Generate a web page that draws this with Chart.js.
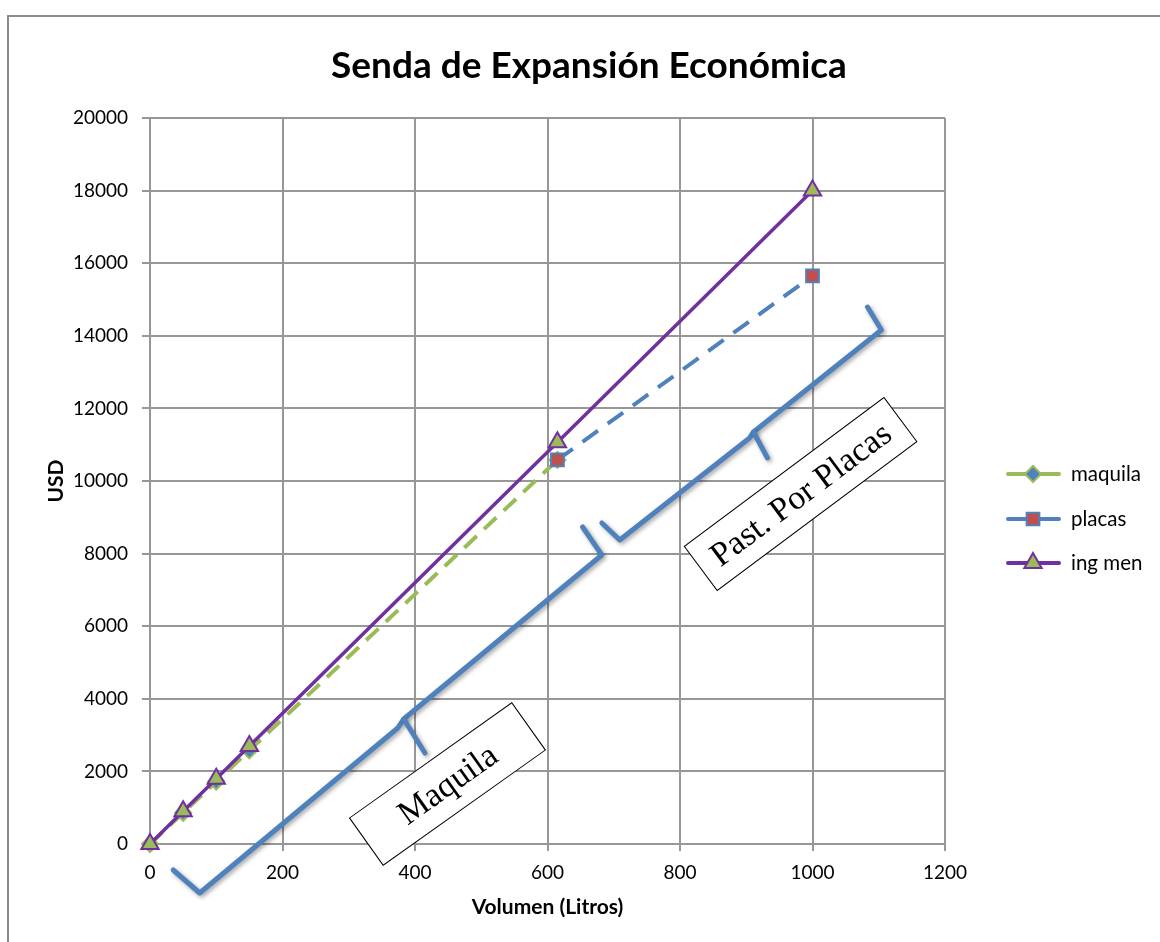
<!DOCTYPE html>
<html>
<head>
<meta charset="utf-8">
<script src="https://cdn.jsdelivr.net/npm/chart.js@4/dist/chart.umd.min.js"></script>
<style>
  body { margin: 0; background: #fff; }
  #frame { position: absolute; left: 7px; top: 15px; width: 1300px; height: 1100px; border-left: 2px solid #8c8c8c; border-top: 2px solid #8c8c8c; }
  #wrap { position: absolute; left: 0; top: 0; width: 1160px; height: 942px; }
</style>
</head>
<body>
<div id="frame"></div>
<div id="wrap"><canvas id="chart" width="1160" height="942"></canvas></div>
<script>
// datos
const volumen = [0, 50, 100, 150, 615, 1000];
const ingMen = [0, 900, 1800, 2700, 11070, 18000];
const maquila = [0, 860, 1720, 2580, 10580];
const placasVol = [615, 1000];
const placas = [10580, 15650];

const titulo = "Senda de Expansión Económica";

// llaves y cuadros de texto (en unidades de los ejes)
const llaveMaquila = [[35, -716], [75, -1350], [374, 3196], [383, 3443], [682, 7961], [653, 8733]];
const colaMaquila = [[383, 3443], [415, 2507]];
const llavePlacas = [[682, 8843], [709, 8375], [905, 11185], [911, 11350], [1104, 14160], [1083, 14793]];
const colaPlacas = [[911, 11350], [932, 10634]];
const cuadros = [
    { text: "Maquila", x: 449, y: 1653, w: 199, h: 58, angle: -35.4 },
    { text: "Past. Por Placas", x: 982, y: 9642, w: 249, h: 55, angle: -36.7 },
];

const gris = "#979797";
const font = "Lato";

function puntos(xs, ys) {
    return ys.map(function (y, i) { return { x: xs[i], y: y }; });
}

const extras = {
    id: "extras",
    afterDraw: function (chart) {
        const ctx = chart.ctx;
        const sx = chart.scales.x;
        const sy = chart.scales.y;
        const px = function (p) { return [sx.getPixelForValue(p[0]), sy.getPixelForValue(p[1])]; };

        // titulo
        ctx.save();
        ctx.fillStyle = "#000";
        ctx.font = "bold 37px " + font;
        ctx.textAlign = "center";
        ctx.textBaseline = "middle";
        ctx.fillText(titulo, 589, 66);
        ctx.restore();

        // leyenda
        const legY = [474, 519, 563];
        chart.data.datasets.forEach(function (ds, i) {
            const y = legY[i];
            ctx.save();
            ctx.strokeStyle = ds.borderColor;
            ctx.lineWidth = 4;
            ctx.lineCap = "round";
            ctx.beginPath();
            ctx.moveTo(1008, y);
            ctx.lineTo(1059, y);
            ctx.stroke();
            ctx.fillStyle = ds.pointBackgroundColor;
            ctx.strokeStyle = ds.pointBorderColor;
            ctx.lineWidth = 2;
            Chart.helpers.drawPoint(ctx, { pointStyle: ds.pointStyle, radius: ds.pointRadius, borderWidth: 2, rotation: 0 }, 1033, y);
            ctx.fillStyle = "#000";
            ctx.font = "20.5px " + font;
            ctx.textBaseline = "middle";
            ctx.fillText(ds.label, 1071, y);
            ctx.restore();
        });

        // llaves
        ctx.save();
        ctx.strokeStyle = "#4f81bd";
        ctx.lineWidth = 5;
        ctx.lineJoin = "round";
        ctx.lineCap = "round";
        ctx.shadowColor = "rgba(0,0,0,0.35)";
        ctx.shadowBlur = 4;
        ctx.shadowOffsetX = 2;
        ctx.shadowOffsetY = 2;
        [llaveMaquila, colaMaquila, llavePlacas, colaPlacas].forEach(function (linea) {
            ctx.beginPath();
            linea.forEach(function (p, j) {
                const q = px(p);
                if (j === 0) ctx.moveTo(q[0], q[1]); else ctx.lineTo(q[0], q[1]);
            });
            ctx.stroke();
        });
        ctx.restore();

        // cuadros de texto
        cuadros.forEach(function (c) {
            const q = px([c.x, c.y]);
            ctx.save();
            ctx.translate(q[0], q[1]);
            ctx.rotate(c.angle * Math.PI / 180);
            ctx.fillStyle = "#fff";
            ctx.fillRect(-c.w / 2, -c.h / 2, c.w, c.h);
            ctx.strokeStyle = "#000";
            ctx.lineWidth = 1;
            ctx.strokeRect(-c.w / 2, -c.h / 2, c.w, c.h);
            ctx.fillStyle = "#000";
            ctx.font = "34px 'Liberation Serif'";
            ctx.textAlign = "center";
            ctx.textBaseline = "middle";
            ctx.fillText(c.text, 0, 2);
            ctx.restore();
        });
    },
};

const chart = new Chart(document.getElementById("chart"), {
    type: "line",
    data: {
        datasets: [
            {
                label: "maquila",
                data: puntos(volumen, maquila),
                borderColor: "#9bbb59",
                borderWidth: 4,
                borderDash: [17, 10],
                pointStyle: "rectRot",
                pointRadius: 8,
                pointBackgroundColor: "#4f81bd",
                pointBorderColor: "#9bbb59",
                pointBorderWidth: 2,
                clip: false,
                order: 2,
            },
            {
                label: "placas",
                data: puntos(placasVol, placas),
                borderColor: "#4f81bd",
                borderWidth: 4,
                borderDash: [19, 12],
                pointStyle: "rect",
                pointRadius: 9,
                pointBackgroundColor: "#c0504d",
                pointBorderColor: "#4f81bd",
                pointBorderWidth: 2,
                clip: false,
                order: 1,
            },
            {
                label: "ing men",
                data: puntos(volumen, ingMen),
                borderColor: "#7030a0",
                borderWidth: 3.5,
                pointStyle: "triangle",
                pointRadius: 10,
                pointBackgroundColor: "#9bbb59",
                pointBorderColor: "#7030a0",
                pointBorderWidth: 2,
                clip: false,
                order: 0,
            },
        ],
    },
    options: {
        responsive: false,
        animation: false,
        layout: { padding: { top: 118, right: 215, bottom: 0, left: 0 } },
        plugins: {
            legend: { display: false },
            title: { display: false },
            tooltip: { enabled: false },
        },
        scales: {
            x: {
                type: "linear",
                min: 0,
                max: 1200,
                ticks: { stepSize: 200, padding: 10, color: "#000", font: { family: font, size: 19 }, callback: function (v) { return String(v); } },
                grid: { color: gris, lineWidth: 2, tickLength: 7, tickColor: gris },
                border: { color: gris, width: 2 },
                title: { display: true, text: "Volumen (Litros)", color: "#000", font: { family: font, size: 21, weight: "bold" }, padding: { bottom: 22 } },
                afterFit: function (scale) { scale.height = 98; },
            },
            y: {
                min: 0,
                max: 20000,
                ticks: { stepSize: 2000, padding: 14, color: "#000", font: { family: font, size: 19 }, callback: function (v) { return String(v); } },
                grid: { color: gris, lineWidth: 2, tickLength: 8, tickColor: gris },
                border: { color: gris, width: 2 },
                title: { display: true, text: "USD", color: "#000", font: { family: font, size: 21, weight: "bold" }, padding: { top: 44 } },
                afterFit: function (scale) { scale.width = 150; },
            },
        },
    },
    plugins: [extras],
});
</script>
</body>
</html>
